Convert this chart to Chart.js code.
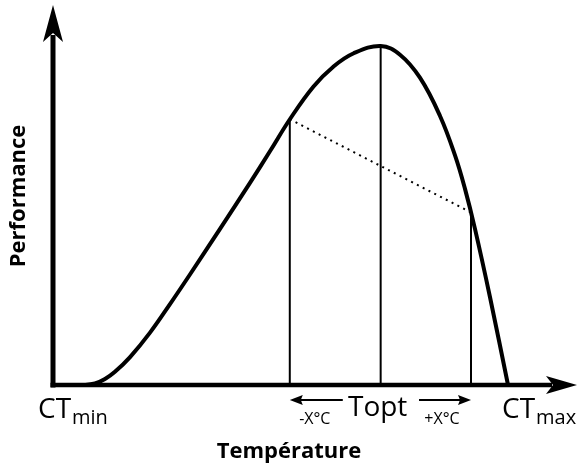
<!DOCTYPE html>
<html>
<head>
<meta charset="utf-8">
<script src="https://cdn.jsdelivr.net/npm/chart.js@4"></script>
<style>
  html, body { margin: 0; padding: 0; background: #fff; }
  canvas { display: block; }
</style>
</head>
<body>
<canvas id="chart" width="580" height="466"></canvas>
<script>
// thermal performance curve
const temps = [3.83, 5.0, 5.78, 6.56, 7.34, 8.52, 10.08, 11.64, 13.2, 15.55, 17.89, 19.45, 21.02, 22.84, 24.4, 25.96, 28.1, 29.61, 31.17, 32.73, 33.91, 34.69, 35.47, 36.64, 38.05];
const performance = [0, 0, 0.44, 1.77, 3.89, 8.23, 15.45, 23.86, 32.6, 46.05, 59.65, 68.94, 78.47, 88.0, 93.9, 97.8, 100, 97.43, 90.65, 79.44, 67.73, 57.85, 46.05, 25.96, 0];

const ctMin = 5.0;
const tOpt = 28.1;
const ctMax = 38.05;
const tMinus = 21.0;
const tPlus = 35.16;
const perfMinus = 78.4;
const perfOpt = 100;
const perfPlus = 50.9;

const xRange = [2.5, 43.44];
const yRange = [0, 112.1];

const FONT = "'Open Sans', 'DejaVu Sans', sans-serif";

const curve = temps.map((t, i) => ({ x: t, y: performance[i] }));
const vline = (t, p) => [{ x: t, y: 0 }, { x: t, y: p }];

const arrowHead = (ctx, tipX, tipY, dx, dy, len, half, notch) => {
  const bx = tipX - dx * len, by = tipY - dy * len;
  const nx = -dy, ny = dx;
  ctx.beginPath();
  ctx.moveTo(tipX, tipY);
  ctx.lineTo(bx + nx * half, by + ny * half);
  ctx.lineTo(tipX - dx * (len - notch), tipY - dy * (len - notch));
  ctx.lineTo(bx - nx * half, by - ny * half);
  ctx.closePath();
  ctx.fill();
};

const axesPlugin = {
  id: 'arrowAxes',
  beforeDatasetsDraw(chart) {
    const { ctx, chartArea: a } = chart;
    ctx.save();
    ctx.fillStyle = '#000';
    ctx.strokeStyle = '#000';
    ctx.lineWidth = 5;
    ctx.beginPath();
    ctx.moveTo(a.left, a.bottom + 2.5);
    ctx.lineTo(a.left, a.top + 30);
    ctx.stroke();
    ctx.lineWidth = 4.5;
    ctx.beginPath();
    ctx.moveTo(a.left - 2.5, a.bottom);
    ctx.lineTo(a.right - 25, a.bottom);
    ctx.stroke();
    arrowHead(ctx, a.left, a.top, 0, -1, 37, 10, 9);
    arrowHead(ctx, a.right, a.bottom, 1, 0, 31, 9, 7);
    ctx.restore();
  },
  afterDraw(chart) {
    const { ctx } = chart;
    const x = chart.scales.x;
    ctx.save();
    ctx.fillStyle = '#000';
    ctx.strokeStyle = '#000';
    ctx.textBaseline = 'alphabetic';

    // CT min / CT max
    const big = `28px ${FONT}`, sub = `20px ${FONT}`;
    ctx.textAlign = 'left';
    let px = x.getPixelForValue(ctMin) - 47;
    ctx.font = big;
    ctx.fillText('CT', px, 418);
    px += ctx.measureText('CT').width;
    ctx.font = sub;
    ctx.fillText('min', px + 1, 424);

    px = x.getPixelForValue(ctMax) - 6;
    ctx.font = big;
    ctx.fillText('CT', px, 418);
    px += ctx.measureText('CT').width;
    ctx.font = sub;
    ctx.fillText('max', px + 1, 424);

    // T opt with the two arrows
    ctx.textAlign = 'center';
    ctx.font = big;
    ctx.fillText('Topt', x.getPixelForValue(tOpt) - 3, 416);

    const xl = x.getPixelForValue(tMinus), xr = x.getPixelForValue(tPlus);
    ctx.lineWidth = 2;
    ctx.beginPath();
    ctx.moveTo(xl + 6, 400); ctx.lineTo(xl + 53, 400);
    ctx.moveTo(xr - 52, 400); ctx.lineTo(xr - 6, 400);
    ctx.stroke();
    arrowHead(ctx, xl, 400, -1, 0, 13, 5, 2);
    arrowHead(ctx, xr, 400, 1, 0, 13, 5, 2);

    ctx.font = `16px ${FONT}`;
    ctx.fillText('-X°C', xl + 25, 424);
    ctx.fillText('+X°C', xr - 29, 424);

    // axis titles
    ctx.font = `bold 22px ${FONT}`;
    ctx.textBaseline = 'middle';
    ctx.fillText('Température', 289, 452);
    ctx.translate(19, 196);
    ctx.rotate(-Math.PI / 2);
    ctx.fillText('Performance', 0, 0);
    ctx.restore();
  }
};

new Chart(document.getElementById('chart'), {
  type: 'line',
  data: {
    datasets: [
      {
        data: curve,
        borderColor: '#000',
        borderWidth: 4,
        tension: 0.4,
        pointRadius: 0,
        clip: false
      },
      {
        data: [{ x: tMinus, y: perfMinus }, { x: tPlus, y: perfPlus }],
        borderColor: '#000',
        borderWidth: 2,
        borderDash: [2, 4.5],
        pointRadius: 0
      },
      { data: vline(tMinus, perfMinus), borderColor: '#000', borderWidth: 2, pointRadius: 0 },
      { data: vline(tOpt, perfOpt), borderColor: '#000', borderWidth: 2, pointRadius: 0 },
      { data: vline(tPlus, perfPlus), borderColor: '#000', borderWidth: 2, pointRadius: 0 }
    ]
  },
  options: {
    responsive: false,
    devicePixelRatio: 1,
    animation: false,
    layout: { padding: { left: 53, right: 3, top: 5, bottom: 81 } },
    plugins: { legend: { display: false }, tooltip: { enabled: false } },
    scales: {
      x: { type: 'linear', min: xRange[0], max: xRange[1], display: false },
      y: { type: 'linear', min: yRange[0], max: yRange[1], display: false }
    }
  },
  plugins: [axesPlugin]
});
</script>
</body>
</html>
